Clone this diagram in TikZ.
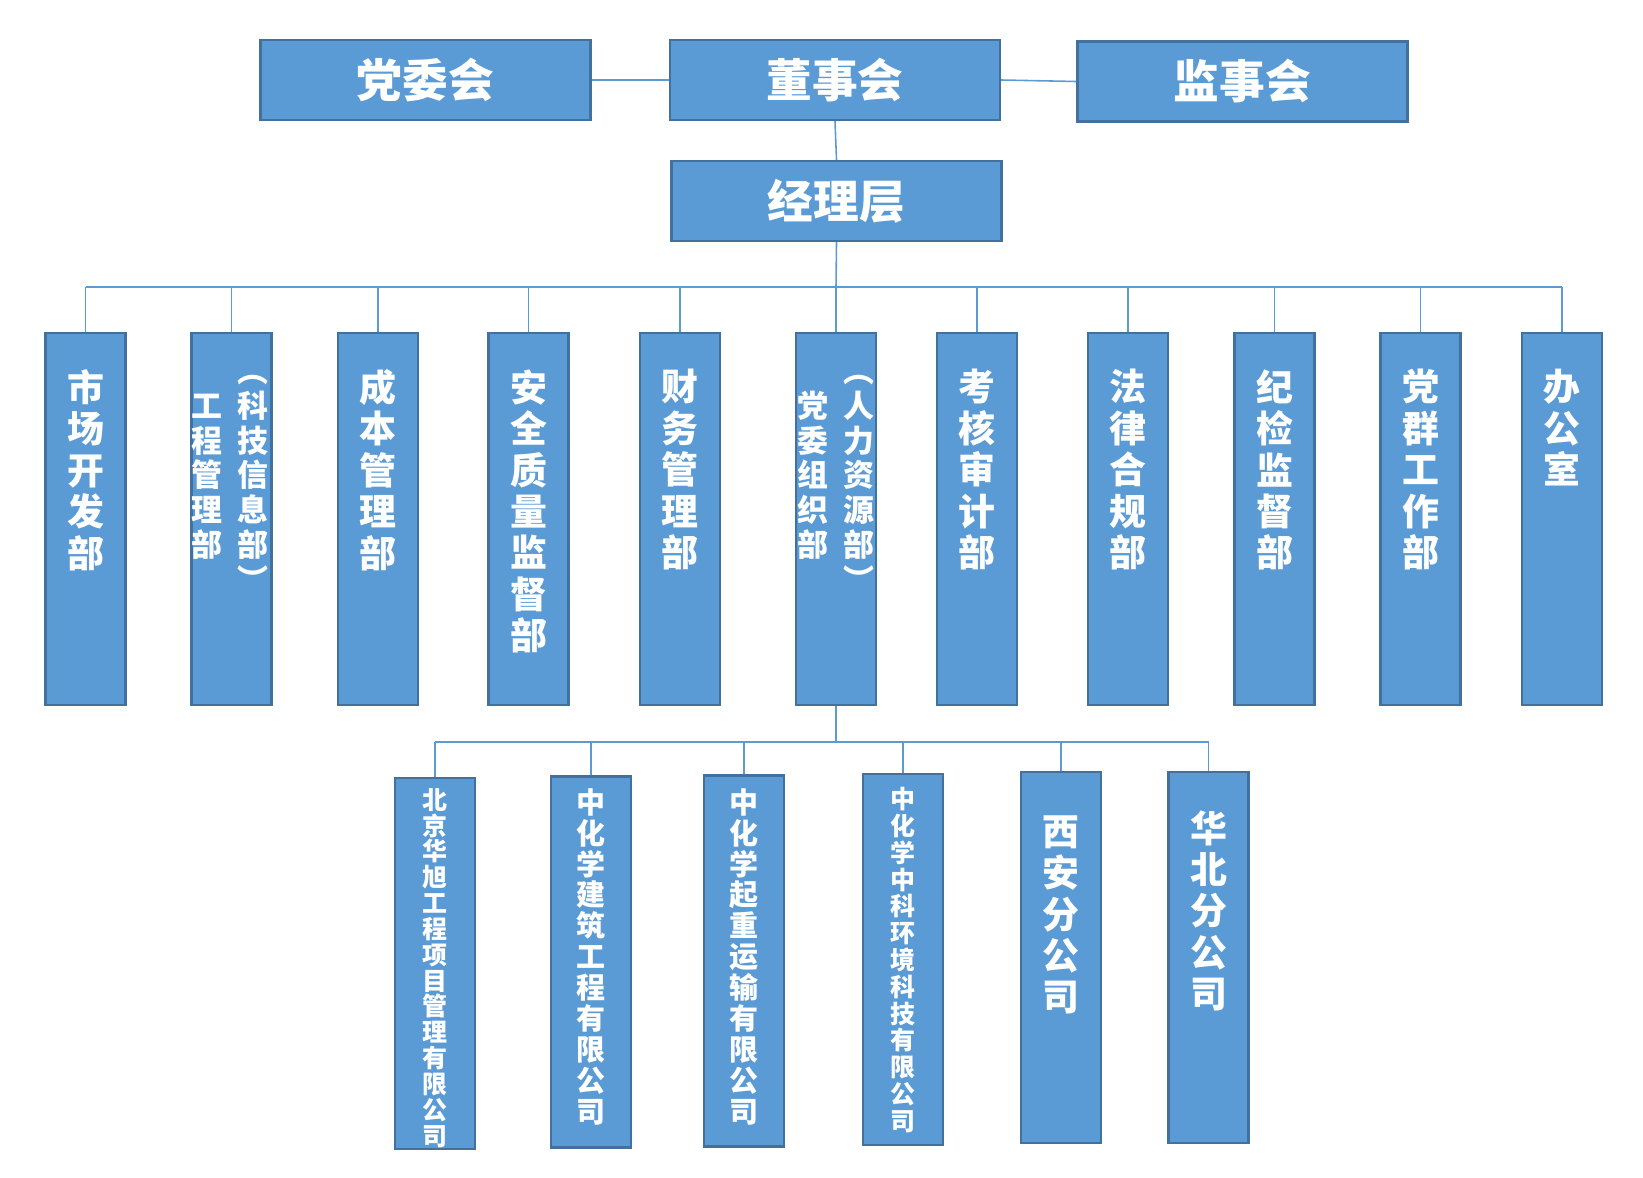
\documentclass[tikz,border=0pt]{standalone}
\usepackage{fontspec}
\newfontfamily\cjk{Noto Sans CJK SC}
\definecolor{boxblue}{HTML}{5B9BD5}
\definecolor{edgeblue}{HTML}{41719C}
\definecolor{lineblue}{HTML}{5B9BD5}
\newcommand\topfont{\cjk\bfseries\fontsize{26pt}{30pt}\selectfont}
\newcommand\deptfont{\cjk\bfseries\fontsize{21pt}{23.6pt}\selectfont}
\newcommand\pairfont{\cjk\bfseries\fontsize{17.6pt}{19.9pt}\selectfont}
\newcommand\midfont{\cjk\bfseries\fontsize{16.5pt}{17.6pt}\selectfont}
\newcommand\longfont{\cjk\bfseries\fontsize{14.2pt}{14.7pt}\selectfont}
\newcommand\envfont{\cjk\bfseries\fontsize{14.2pt}{15.25pt}\selectfont}
\tikzset{
  board/.style={draw=edgeblue, fill=boxblue, line width=1.4pt, minimum width=6.6cm,
    minimum height=1.6cm, inner sep=0pt, text=white, font=\topfont},
  unitbox/.style={draw=edgeblue, fill=boxblue, line width=1.4pt, minimum width=1.6cm,
    minimum height=7.44cm, inner sep=0pt},
  vlab/.style={anchor=north, align=center, inner sep=0pt, text=white},
  link/.style={draw=lineblue, line width=0.9pt},
}
\begin{document}
\begin{tikzpicture}[x=0.02cm,y=-0.02cm]
 \useasboundingbox (0,0) rectangle (1643,1177);
 \node[board] (dwh) at (425.5,80) {党委会};
 \node[board] (dsh) at (835,80) {董事会};
 \node[board] (jsh) at (1242.5,81.5) {监事会};
 \node[board] (jlc) at (836.5,201) {经理层};
 \draw[link] (dwh.east) -- (dsh.west);
 \draw[link] (dsh.east) -- (jsh.west);
 \draw[link] (dsh.south) -- (jlc.north);

 \node[unitbox] (scb) at (85.5,519) {};
 \node[unitbox] (gcb) at (231.5,519) {};
 \node[unitbox] (cbb) at (378,519) {};
 \node[unitbox] (aqb) at (528.5,519) {};
 \node[unitbox] (cwb) at (680,519) {};
 \node[unitbox] (rlb) at (836,519) {};
 \node[unitbox] (khb) at (977,519) {};
 \node[unitbox] (flb) at (1128,519) {};
 \node[unitbox] (jjb) at (1274.5,519) {};
 \node[unitbox] (dqb) at (1420.5,519) {};
 \node[unitbox] (bgs) at (1562,519) {};
 \node[vlab, font=\deptfont] (scb-t) at (85.5,369) {市\\场\\开\\发\\部};
 \node[vlab, font=\pairfont] (gcb-r) at (253,355) {\vphantom{部}︵\\科\\技\\信\\息\\部\\︶};
 \node[vlab, font=\pairfont] (gcb-l) at (207,355) {\vphantom{部}\\工\\程\\管\\理\\部};
 \node[vlab, font=\deptfont] (cbb-t) at (378,369) {成\\本\\管\\理\\部};
 \node[vlab, font=\deptfont] (aqb-t) at (528.5,369) {安\\全\\质\\量\\监\\督\\部};
 \node[vlab, font=\deptfont] (cwb-t) at (680,369) {财\\务\\管\\理\\部};
 \node[vlab, font=\pairfont] (rlb-r) at (859,355) {\vphantom{部}︵\\人\\力\\资\\源\\部\\︶};
 \node[vlab, font=\pairfont] (rlb-l) at (813,355) {\vphantom{部}\\党\\委\\组\\织\\部};
 \node[vlab, font=\deptfont] (khb-t) at (977,369) {考\\核\\审\\计\\部};
 \node[vlab, font=\deptfont] (flb-t) at (1128,369) {法\\律\\合\\规\\部};
 \node[vlab, font=\deptfont] (jjb-t) at (1274.5,369) {纪\\检\\监\\督\\部};
 \node[vlab, font=\deptfont] (dqb-t) at (1420.5,369) {党\\群\\工\\作\\部};
 \node[vlab, font=\deptfont] (bgs-t) at (1562,369) {办\\公\\室};

 \coordinate (bus) at (836,287);
 \draw[link] (jlc.south) -- (bus);
 \draw[link] (scb.north |- bus) -- (bgs.north |- bus);
 \draw[link] (scb.north |- bus) -- (scb.north);
 \draw[link] (gcb.north |- bus) -- (gcb.north);
 \draw[link] (cbb.north |- bus) -- (cbb.north);
 \draw[link] (aqb.north |- bus) -- (aqb.north);
 \draw[link] (cwb.north |- bus) -- (cwb.north);
 \draw[link] (rlb.north |- bus) -- (rlb.north);
 \draw[link] (khb.north |- bus) -- (khb.north);
 \draw[link] (flb.north |- bus) -- (flb.north);
 \draw[link] (jjb.north |- bus) -- (jjb.north);
 \draw[link] (dqb.north |- bus) -- (dqb.north);
 \draw[link] (bgs.north |- bus) -- (bgs.north);

 \node[unitbox, minimum height=7.42cm] (bjhx) at (435,963.5) {};
 \node[unitbox, minimum height=7.42cm] (zjz) at (591,962) {};
 \node[unitbox, minimum height=7.42cm] (zqz) at (744,961) {};
 \node[unitbox, minimum height=7.42cm] (zkh) at (903,959.5) {};
 \node[unitbox, minimum height=7.42cm] (xab) at (1061,957.5) {};
 \node[unitbox, minimum height=7.42cm] (hbb) at (1208.5,957.5) {};
 \node[vlab, font=\longfont] (bjhx-t) at (435,788) {北\\京\\华\\旭\\工\\程\\项\\目\\管\\理\\有\\限\\公\\司};
 \node[vlab, font=\midfont] (zjz-t) at (591,788) {中\\化\\学\\建\\筑\\工\\程\\有\\限\\公\\司};
 \node[vlab, font=\midfont] (zqz-t) at (744,788) {中\\化\\学\\起\\重\\运\\输\\有\\限\\公\\司};
 \node[vlab, font=\envfont] (zkh-t) at (903,787) {中\\化\\学\\中\\科\\环\\境\\科\\技\\有\\限\\公\\司};
 \node[vlab, font=\deptfont] (xab-t) at (1061,815) {西\\安\\分\\公\\司};
 \node[vlab, font=\deptfont] (hbb-t) at (1208.5,810) {华\\北\\分\\公\\司};

 \coordinate (sbus) at (836,742);
 \draw[link] (rlb.south) -- (sbus);
 \draw[link] (bjhx.north |- sbus) -- (hbb.north |- sbus);
 \draw[link] (bjhx.north |- sbus) -- (bjhx.north);
 \draw[link] (zjz.north |- sbus) -- (zjz.north);
 \draw[link] (zqz.north |- sbus) -- (zqz.north);
 \draw[link] (zkh.north |- sbus) -- (zkh.north);
 \draw[link] (xab.north |- sbus) -- (xab.north);
 \draw[link] (hbb.north |- sbus) -- (hbb.north);
\end{tikzpicture}
\end{document}
